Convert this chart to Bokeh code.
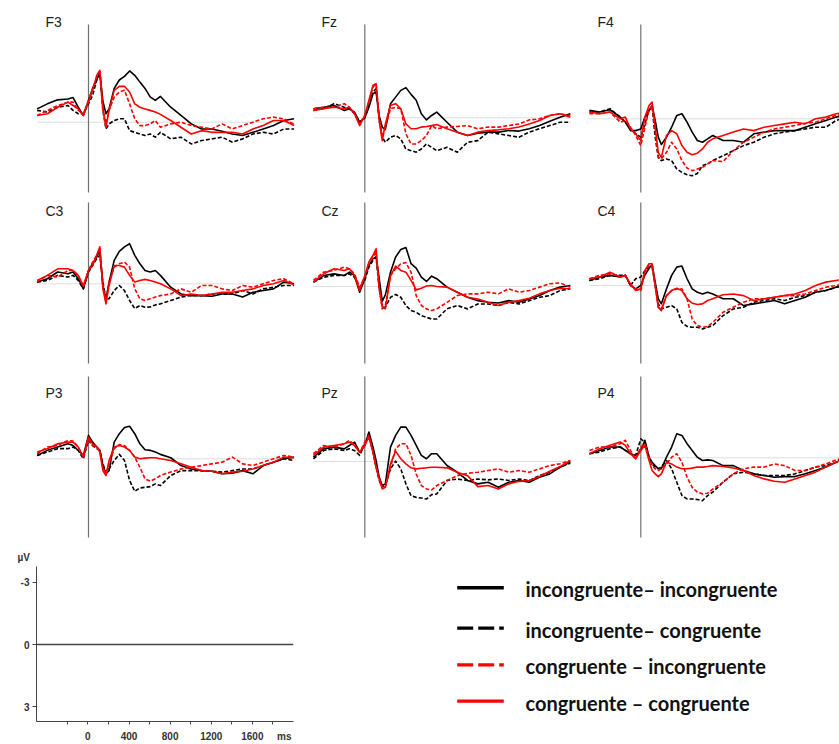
from bokeh.plotting import figure
from bokeh.layouts import column, row, Spacer
from bokeh.models import Range1d, Label, Span, FixedTicker, Title
from bokeh.embed import file_html
from bokeh.resources import INLINE

# ---------------- data (ms, µV; negative plotted upward) ----------------
times = [-500, -400, -300, -200, -150, -100, -50, 0, 40, 80, 110, 140, 170, 200, 250, 300, 350, 400, 450, 500,
         550, 600, 650, 700, 800, 900, 1000, 1100, 1200, 1300, 1400, 1500, 1600, 1700, 1800, 1900, 2000]

channels = ["F3", "Fz", "F4", "C3", "Cz", "C4", "P3", "Pz", "P4"]
conditions = ["incongruente– incongruente", "incongruente– congruente",
              "congruente – incongruente", "congruente – congruente"]

F3_ii = [-0.63,-0.87,-1.06,-1.1,-1.17,-0.71,-0.32,-1.03,-1.6,-2.0,-2.38,-1.0,-0.4,-0.63,-1.6,-2.0,-2.17,-2.43,-2.22,-1.9,-1.6,-1.2,-1.03,-1.22,-0.71,-0.32,0.08,0.32,0.32,0.43,0.56,0.63,0.48,0.32,0.16,-0.08,-0.16]
F3_ic = [-0.56,-0.48,-0.71,-0.79,-0.56,-0.4,-0.4,-0.87,-1.27,-2.0,-2.3,-0.56,0.32,0.08,-0.08,-0.16,-0.16,0.4,0.48,0.56,0.63,0.56,0.71,0.48,0.79,0.71,1.03,0.87,0.79,0.71,0.95,0.79,0.56,0.48,0.56,0.32,0.32]
F3_ci = [-0.32,-0.56,-0.79,-0.95,-0.95,-0.56,-0.4,-1.03,-1.6,-2.14,-2.46,-0.56,0.08,-0.56,-1.19,-1.43,-1.51,-0.87,-0.16,0.16,0.16,0.08,-0.08,0.24,0.08,0.0,0.16,0.24,0.32,0.08,0.32,0.16,0.0,-0.16,-0.24,-0.16,0.1]
F3_cc = [-0.32,-0.4,-0.71,-0.95,-0.79,-0.63,-0.32,-0.95,-1.51,-2.22,-2.46,-0.71,0.24,-0.56,-1.51,-1.7,-1.7,-1.43,-0.87,-0.71,-0.63,-0.56,-0.48,-0.37,-0.08,0.24,0.56,0.4,0.48,0.48,0.48,0.56,0.32,0.16,-0.08,-0.08,0.16]

Fz_ii = [-0.43,-0.5,-0.59,-0.35,-0.43,-0.27,0.2,0.0,-0.5,-1.14,-1.22,-0.1,0.45,0.55,-0.67,-0.98,-1.3,-1.43,-1.11,-0.83,-0.19,0.1,-0.11,-0.27,0.21,0.68,0.84,0.73,0.68,0.68,0.6,0.63,0.52,0.37,0.16,-0.03,-0.19]
Fz_ic = [-0.35,-0.43,-0.67,-0.5,-0.43,-0.19,0.2,0.0,-0.59,-1.22,-1.38,0.13,0.92,1.16,0.92,0.84,1.0,1.48,1.56,1.63,1.48,1.24,1.4,1.56,1.4,1.63,1.16,1.08,0.68,0.76,0.84,0.92,0.68,0.52,0.37,0.21,0.21]
Fz_ci = [-0.43,-0.5,-0.5,-0.67,-0.5,-0.19,0.29,-0.11,-0.75,-1.46,-1.62,-0.03,0.92,0.44,-0.43,-0.5,-0.43,0.76,1.24,1.24,1.08,0.84,0.37,0.52,0.44,0.41,0.37,0.52,0.44,0.44,0.37,0.29,0.1,0.05,-0.11,-0.19,-0.11]
Fz_cc = [-0.35,-0.43,-0.5,-0.43,-0.5,-0.19,0.37,-0.11,-0.83,-1.54,-1.62,0.13,1.08,0.29,-0.59,-0.67,-0.43,0.29,0.52,0.52,0.44,0.41,0.37,0.32,0.52,0.68,0.84,0.68,0.6,0.57,0.52,0.44,0.29,0.13,-0.11,-0.19,-0.03]

F4_ii = [-0.4,-0.32,-0.43,-0.08,0.16,0.56,0.56,0.48,-0.08,-0.4,-0.63,0.08,0.87,1.22,0.87,0.4,-0.16,-0.24,0.16,0.63,1.03,1.11,0.95,0.79,1.03,1.03,1.11,0.71,0.63,0.56,0.56,0.56,0.4,0.24,0.08,-0.08,-0.16]
F4_ic = [-0.32,-0.32,-0.48,-0.08,0.16,0.48,0.71,0.87,0.24,-0.4,-0.56,0.87,1.83,1.98,1.9,1.98,2.38,2.54,2.65,2.7,2.59,2.22,2.14,1.98,1.75,1.51,1.27,1.11,0.87,0.71,0.63,0.56,0.48,0.4,0.4,0.08,-0.08]
F4_ci = [-0.24,-0.24,-0.32,0.16,0.08,0.4,0.79,1.27,0.4,-0.4,-0.63,0.56,1.83,1.9,1.59,1.11,1.43,1.98,2.33,2.46,2.38,2.3,2.14,1.98,2.03,1.51,1.11,0.87,0.63,0.48,0.4,0.32,0.21,0.16,0.0,-0.16,-0.24]
F4_cc = [-0.32,-0.24,-0.32,0.0,-0.08,0.48,0.71,1.03,-0.08,-0.63,-0.79,0.4,1.59,1.83,0.79,0.56,0.71,1.27,1.59,1.7,1.63,1.43,1.11,0.95,0.79,0.63,0.48,0.56,0.4,0.32,0.24,0.16,0.24,0.0,-0.08,-0.24,-0.32]

C3_ii = [-0.08,-0.24,-0.56,-0.48,-0.56,-0.24,0.24,-0.63,-0.95,-1.27,-1.59,0.08,0.71,-0.08,-1.11,-1.54,-1.75,-1.9,-1.35,-0.95,-0.63,-0.56,-0.63,-0.4,0.16,0.48,0.56,0.56,0.59,0.48,0.48,0.63,0.4,0.32,0.24,-0.08,0.0]
C3_ic = [-0.08,-0.16,-0.4,-0.32,-0.4,-0.16,0.24,-0.56,-0.87,-1.19,-1.35,-0.08,0.71,0.71,0.32,0.08,0.32,0.79,1.17,1.03,1.11,1.1,1.0,0.95,0.79,0.63,0.55,0.56,0.48,0.48,0.48,0.32,0.48,0.24,0.16,0.08,0.08]
C3_ci = [-0.08,-0.4,-0.32,-0.63,-0.63,-0.4,0.16,-0.63,-1.03,-1.35,-1.67,0.08,0.87,-0.08,-0.79,-0.95,-1.03,-0.79,0.24,0.71,0.79,0.71,0.63,0.56,0.48,0.24,0.4,0.08,0.08,0.24,0.32,0.08,0.16,0.0,-0.16,-0.24,0.0]
C3_cc = [-0.16,-0.4,-0.71,-0.71,-0.63,-0.4,0.08,-0.63,-0.87,-1.35,-1.75,0.24,0.95,0.08,-0.87,-0.87,-0.79,-0.4,-0.08,-0.16,-0.21,-0.16,-0.08,0.0,0.24,0.56,0.48,0.56,0.48,0.4,0.4,0.32,0.24,0.08,0.0,-0.16,0.05]

Cz_ii = [-0.21,-0.52,-0.6,-0.52,-0.68,-0.52,0.27,-0.37,-1.0,-1.32,-1.4,-0.37,0.7,0.4,-0.68,-1.4,-1.75,-1.85,-1.08,-0.87,-0.44,-0.24,-0.49,-0.37,0.03,0.27,0.51,0.67,0.75,0.78,0.67,0.75,0.59,0.43,0.19,0.03,-0.05]
Cz_ic = [-0.21,-0.44,-0.52,-0.52,-0.6,-0.44,0.11,-0.29,-0.92,-1.24,-1.4,0.11,0.98,0.98,0.51,0.38,0.51,0.9,1.14,1.22,1.38,1.46,1.54,1.54,1.06,0.9,1.06,0.83,0.83,0.9,0.75,0.83,0.67,0.51,0.43,0.19,0.11]
Cz_ci = [-0.29,-0.68,-0.76,-0.92,-0.84,-0.6,0.03,-0.44,-1.08,-1.4,-1.63,-0.05,1.06,0.9,-0.52,-0.84,-1.08,-1.13,-0.68,0.43,0.9,1.06,1.14,1.06,0.75,0.43,0.35,0.35,0.27,0.35,0.11,0.27,0.19,0.03,-0.13,-0.17,0.03]
Cz_cc = [-0.21,-0.6,-0.84,-0.76,-0.84,-0.52,0.19,-0.52,-1.16,-1.48,-1.79,0.11,0.98,1.06,-0.52,-0.97,-0.76,-0.68,-0.29,0.16,0.08,-0.02,-0.05,0.0,0.03,0.27,0.51,0.59,0.75,0.9,0.75,0.67,0.56,0.35,0.19,0.08,0.11]

C4_ii = [-0.24,-0.4,-0.48,-0.4,-0.48,0.0,0.16,0.0,-0.5,-0.8,-1.0,-0.16,0.63,0.87,0.16,-0.48,-0.87,-0.92,-0.32,0.16,0.32,0.4,0.32,0.4,0.63,0.63,0.95,0.87,0.79,0.71,0.87,0.71,0.56,0.32,0.24,0.08,0.0]
C4_ic = [-0.24,-0.32,-0.48,-0.48,-0.48,0.0,-0.32,-0.4,-0.71,-0.87,-0.87,0.0,0.87,1.11,1.03,0.95,1.11,1.75,1.94,1.98,1.98,2.06,1.98,1.9,1.43,1.11,1.03,0.79,0.71,0.63,0.71,0.56,0.48,0.32,0.24,0.08,0.0]
C4_ci = [-0.32,-0.48,-0.56,-0.4,-0.48,0.0,0.16,0.24,-0.63,-0.98,-1.0,0.0,1.03,1.11,0.48,0.24,0.16,0.16,0.63,1.59,1.9,1.98,1.94,1.75,1.27,1.03,0.79,0.63,0.63,0.56,0.48,0.48,0.4,0.24,0.08,0.0,-0.08]
C4_cc = [-0.32,-0.4,-0.63,-0.4,-0.48,-0.08,0.24,0.16,-0.71,-1.03,-1.03,0.0,1.03,1.19,0.48,0.24,0.13,0.24,0.63,0.84,0.9,0.87,0.71,0.63,0.44,0.4,0.48,0.71,0.63,0.56,0.48,0.4,0.24,0.0,-0.16,-0.24,-0.32]

P3_ii = [-0.16,-0.4,-0.56,-0.71,-0.63,-0.4,-0.16,-1.11,-0.79,-0.56,-0.4,0.32,0.71,0.56,-0.79,-1.19,-1.48,-1.54,-1.19,-0.71,-0.43,-0.4,-0.32,-0.21,-0.05,0.32,0.48,0.56,0.59,0.71,0.68,0.56,0.71,0.32,0.16,0.0,-0.08]
P3_ic = [-0.16,-0.32,-0.48,-0.48,-0.56,-0.4,0.0,-0.87,-0.63,-0.48,-0.4,0.24,0.63,0.48,0.08,-0.21,0.08,1.03,1.54,1.38,1.35,1.32,1.19,1.27,0.79,0.56,0.56,0.56,0.59,0.63,0.56,0.48,0.48,0.32,0.16,0.0,0.08]
P3_ci = [-0.24,-0.56,-0.63,-0.87,-0.84,-0.56,-0.08,-0.95,-0.63,-0.56,-0.4,0.4,0.71,0.24,-0.48,-0.67,-0.63,-0.4,-0.08,0.4,0.95,1.06,0.95,0.79,0.63,0.48,0.4,0.32,0.24,0.16,-0.08,0.24,0.32,0.16,0.0,-0.16,-0.08]
P3_cc = [-0.32,-0.48,-0.71,-0.79,-0.79,-0.56,-0.08,-1.03,-0.71,-0.56,-0.32,0.56,0.79,0.08,-0.56,-0.63,-0.56,-0.4,-0.08,0.0,-0.03,-0.05,-0.05,0.0,0.08,0.24,0.4,0.56,0.59,0.71,0.63,0.59,0.48,0.32,0.16,-0.08,-0.05]

Pz_ii = [-0.21,-0.6,-0.68,-0.6,-0.76,-0.92,-0.44,-0.76,-1.4,-0.68,-0.05,0.75,1.14,1.06,-0.68,-1.24,-1.63,-1.63,-1.24,-0.76,-0.29,-0.13,-0.37,-0.37,0.19,0.51,0.9,1.06,0.98,1.22,0.98,0.9,0.98,0.75,0.59,0.27,0.03]
Pz_ic = [-0.13,-0.52,-0.6,-0.52,-0.6,-0.52,-0.29,-0.84,-1.24,-0.44,0.27,0.9,1.22,1.14,0.35,-0.02,0.35,1.06,1.62,1.7,1.73,1.78,1.57,1.54,0.9,0.83,0.9,0.83,0.87,0.83,0.9,0.83,0.9,0.67,0.51,0.27,0.08]
Pz_ci = [-0.37,-0.76,-0.68,-0.84,-1.0,-0.76,-0.44,-0.92,-1.24,-0.44,0.27,0.75,1.22,1.22,0.27,-0.6,-0.84,-0.84,-0.29,0.59,1.14,1.3,1.35,1.14,0.9,0.67,0.56,0.51,0.43,0.35,0.51,0.43,0.51,0.35,0.19,0.11,-0.05]
Pz_cc = [-0.29,-0.68,-0.76,-0.84,-0.92,-0.76,-0.44,-0.76,-1.16,-0.44,0.27,0.83,1.3,1.22,0.11,-0.49,-0.13,0.11,0.3,0.35,0.32,0.3,0.27,0.27,0.3,0.51,0.67,1.19,1.14,1.3,1.06,0.94,0.9,0.71,0.46,0.24,-0.05]

P4_ii = [-0.19,-0.35,-0.51,-0.51,-0.35,-0.19,-0.11,-0.35,-0.83,-0.03,0.21,0.37,0.52,0.52,-0.03,-0.51,-1.14,-1.06,-0.67,-0.35,-0.03,0.13,0.1,0.13,0.37,0.37,0.6,0.76,0.84,0.92,0.89,0.89,0.76,0.6,0.44,0.21,0.05]
P4_ic = [-0.19,-0.27,-0.43,-0.51,-0.35,-0.19,-0.11,-0.9,-0.75,-0.03,0.29,0.44,0.52,0.44,0.13,0.52,1.16,1.79,1.95,1.95,1.98,2.03,1.79,1.63,1.16,0.76,0.68,0.76,0.84,0.84,0.84,0.76,0.6,0.44,0.37,0.21,0.0]
P4_ci = [-0.35,-0.51,-0.51,-0.67,-0.83,-0.35,0.05,-0.51,-0.67,-0.03,0.37,0.52,0.6,0.52,0.29,-0.03,-0.19,0.21,0.92,1.4,1.63,1.71,1.68,1.48,1.16,0.76,0.52,0.44,0.44,0.29,0.37,0.6,0.6,0.44,0.29,0.1,-0.03]
P4_cc = [-0.19,-0.43,-0.59,-0.75,-0.59,-0.19,0.05,-0.35,-0.59,0.13,0.6,0.76,0.89,0.76,0.21,0.29,0.44,0.52,0.52,0.49,0.44,0.44,0.41,0.37,0.41,0.48,0.6,0.84,1.0,1.11,1.16,1.0,0.84,0.68,0.44,0.21,-0.03]

scale_yticks = [-3, 0, 3]
scale_xticks = [0, 400, 800, 1200, 1600]
scale_xminor = [-200, 0, 200, 400, 600, 800, 1000, 1200, 1400, 1600, 1800]
ms_label_pos = 1910

waves = {
    "F3": [F3_ii, F3_ic, F3_ci, F3_cc], "Fz": [Fz_ii, Fz_ic, Fz_ci, Fz_cc], "F4": [F4_ii, F4_ic, F4_ci, F4_cc],
    "C3": [C3_ii, C3_ic, C3_ci, C3_cc], "Cz": [Cz_ii, Cz_ic, Cz_ci, Cz_cc], "C4": [C4_ii, C4_ic, C4_ci, C4_cc],
    "P3": [P3_ii, P3_ic, P3_ci, P3_cc], "Pz": [Pz_ii, Pz_ic, Pz_ci, Pz_cc], "P4": [P4_ii, P4_ic, P4_ci, P4_cc],
}

# ---------------- styling / geometry ----------------
LINE_COLORS = ["#000000", "#000000", "#ff0000", "#ff0000"]
LINE_DASHES = ["solid", "4 2", "4 2", "solid"]
MS_PER_PX = 9.73
UV_PER_PX = 1 / 21.1

col_left = [20, 296, 572]
col_width = [276, 276, 267]
col_zero = [88.0, 364.3, 640.3]
row_top = [0, 197, 370]
row_height = [197, 173, 175]
baseline_px = {"F3": 121.7, "Fz": 117.3, "F4": 118.3, "C3": 283.3, "Cz": 286.0, "C4": 285.0,
               "P3": 458.3, "Pz": 461.0, "P4": 457.3}
vline_px = [(24, 192), (202, 363), (376, 537)]
label_x_px = [45, 321, 597]
label_y_px = [21, 210, 392]
FONT = "Liberation Sans"


def make_panel(ch, r, c):
    L, W, Z = col_left[c], col_width[c], col_zero[c]
    T, H = row_top[r], row_height[r]
    B = baseline_px[ch]

    def xs(px):
        return (px - Z) * MS_PER_PX

    def ys(py):
        return (py - B) * UV_PER_PX

    p = figure(width=W, height=H, x_range=Range1d(xs(L), xs(L + W)),
               y_range=Range1d(ys(T + H), ys(T)),
               toolbar_location=None, output_backend="svg", min_border=0,
               x_axis_type=None, y_axis_type=None)
    p.outline_line_color = None
    p.grid.visible = False

    p.segment(x0=[times[0]], y0=[0], x1=[times[-1]], y1=[0], line_color="#dedede", line_width=1)
    v0, v1 = vline_px[r]
    p.segment(x0=[0], y0=[ys(v0)], x1=[0], y1=[ys(v1)], line_color="#707070", line_width=1.2)

    for data, col, dash in zip(waves[ch], LINE_COLORS, LINE_DASHES):
        p.line(times, data, line_color=col, line_dash=dash, line_width=1.6, line_join="round")

    p.add_layout(Label(x=xs(label_x_px[c]), y=ys(label_y_px[r]), text=ch, text_font=FONT,
                       text_font_size="14px", text_color="#222222", text_baseline="alphabetic"))
    return p


rows = []
for r in range(3):
    figs = [Spacer(width=20, height=row_height[r])]
    for c in range(3):
        figs.append(make_panel(channels[r * 3 + c], r, c))
    rows.append(row(*figs))

# ---------------- calibration panel ----------------
sc = figure(width=300, height=199, x_range=Range1d(-500, 2000), y_range=Range1d(3.71, -3.76),
            toolbar_location=None, output_backend="svg",
            min_border_left=36, min_border_right=7, min_border_top=21, min_border_bottom=21)
sc.outline_line_color = None
sc.grid.visible = False
sc.add_layout(Span(location=0, dimension="width", line_color="#444444", line_width=1.3))
for ax in (sc.xaxis, sc.yaxis):
    ax.axis_line_color = "#444444"
    ax.major_tick_line_color = "#444444"
    ax.minor_tick_line_color = "#444444"
    ax.major_label_text_font = FONT
    ax.major_label_text_font_style = "bold"
    ax.major_label_text_font_size = "10px"
    ax.major_label_text_color = "#333333"
    ax.major_tick_in = 0
sc.xaxis.ticker = FixedTicker(ticks=scale_xticks + [ms_label_pos], minor_ticks=scale_xminor)
sc.xaxis.major_label_overrides = {ms_label_pos: "ms"}
sc.xaxis.major_tick_out = 0
sc.xaxis.minor_tick_out = 3
sc.xaxis.minor_tick_in = 0
sc.xaxis.major_label_standoff = 6
sc.yaxis.ticker = FixedTicker(ticks=scale_yticks)
sc.yaxis.major_label_overrides = {t: str(t) for t in scale_yticks}
sc.yaxis.major_tick_out = 4
sc.yaxis.major_label_standoff = 3
sc.add_layout(Title(text="µV", align="left", offset=-19, standoff=7, text_font=FONT,
                    text_font_style="bold", text_font_size="10px", text_color="#333333"), "above")

# ---------------- legend panel ----------------
lg = figure(width=539, height=199, x_range=Range1d(0, 539), y_range=Range1d(178, 21),
            toolbar_location=None, output_backend="svg",
            min_border_left=0, min_border_right=0, min_border_top=21, min_border_bottom=21,
            x_axis_type=None, y_axis_type=None)
lg.outline_line_color = None
lg.grid.visible = False
leg_y = [42.5, 83.5, 120.7, 157.3]
for name, col, dash, yy in zip(conditions, LINE_COLORS, LINE_DASHES, leg_y):
    ld = "solid" if dash == "solid" else "16 5"
    lg.line([156.7, 203.3], [yy, yy], line_color=col, line_dash=ld, line_width=3.3)
    lg.add_layout(Label(x=225, y=yy + 1.5, text=name, text_font="Lato", text_font_style="bold",
                        text_font_size="20px", text_color="#111111", text_baseline="middle"))

layout = column(*rows, row(sc, lg))

with open("out.html", "w") as f:
    f.write(file_html(layout, INLINE))
